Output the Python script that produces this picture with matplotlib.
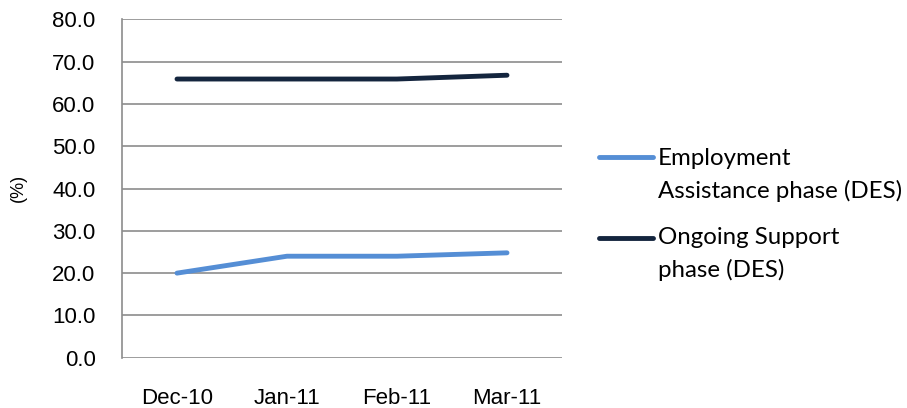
import matplotlib
matplotlib.use("Agg")
import matplotlib.pyplot as plt
from matplotlib.lines import Line2D

categories = ["Dec-10", "Jan-11", "Feb-11", "Mar-11"]
employment_assistance = [20.0, 24.0, 24.0, 24.8]
ongoing_support = [65.9, 65.9, 65.9, 66.8]
series_labels = ["Employment\nAssistance phase (DES)", "Ongoing Support\nphase (DES)"]
series_colors = ["#558ED5", "#14253E"]
yticks = [0, 10, 20, 30, 40, 50, 60, 70, 80]

W, H = 907, 408
fig = plt.figure(figsize=(W / 100, H / 100), dpi=100)
ax = fig.add_axes([122 / W, 1 - 357.7 / H, (562 - 122) / W, (357.7 - 19.4) / H])

x = list(range(len(categories)))
for vals, col in zip([employment_assistance, ongoing_support], series_colors):
    ax.plot(x, vals, color=col, lw=3.5, solid_capstyle="round", solid_joinstyle="round", zorder=3)

ax.set_xlim(-0.5, len(categories) - 0.5)
ax.set_ylim(0, 80)
ax.set_yticks(yticks)
ax.set_yticklabels([f"{v:.1f}" for v in yticks], fontfamily="Liberation Sans", fontsize=16)
ax.set_xticks(x)
ax.set_xticklabels(categories, fontfamily="Liberation Sans", fontsize=16)
ax.tick_params(axis="x", length=0, pad=22)
ax.tick_params(axis="y", length=0, pad=19)
ax.grid(axis="y", color="#8C8C8C", lw=1.2)
for s in ["top", "right", "bottom"]:
    ax.spines[s].set_visible(False)
ax.spines["left"].set_color("#8C8C8C")
ax.spines["left"].set_linewidth(1.2)
ax.set_axisbelow(True)

fig.text(18 / W, 1 - 188 / H, "(%)", rotation=90, ha="center", va="center",
         fontfamily="Liberation Sans", fontsize=13)

# legend
handle_y = [157, 238]
block_y = [175, 254]
for lab, col, hy, by in zip(series_labels, series_colors, handle_y, block_y):
    fig.add_artist(Line2D([599 / W, 653 / W], [1 - hy / H, 1 - hy / H], color=col, lw=3.5,
                          solid_capstyle="round", transform=fig.transFigure))
    fig.text(658 / W, 1 - by / H, lab, ha="left", va="center", fontfamily="Lato",
             fontsize=17.3, linespacing=1.58)

fig.savefig("out.png", dpi=100)
